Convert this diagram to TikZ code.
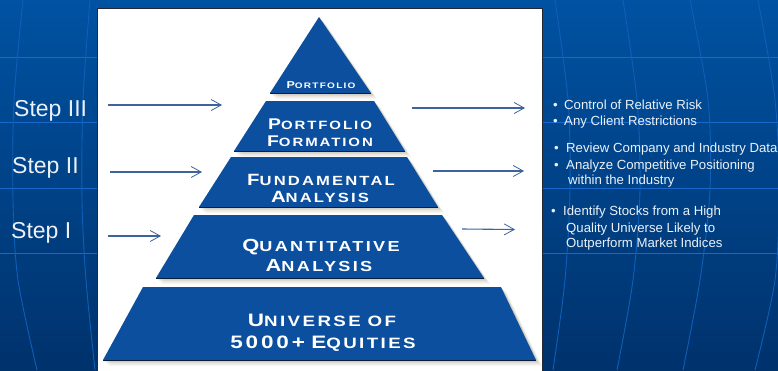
\documentclass[tikz,border=0pt]{standalone}
\usepackage{fontspec}
\setmainfont{Liberation Sans}
\newfontfamily\cop[FakeStretch=1.25,LetterSpace=16]{Liberation Sans}
\usetikzlibrary{arrows.meta}
\definecolor{bgtop}{RGB}{0,82,162}
\definecolor{bgbot}{RGB}{0,50,108}
\definecolor{gridc}{RGB}{25,105,205}
\definecolor{band}{RGB}{11,79,158}
\definecolor{bandedge}{RGB}{10,30,60}
\definecolor{shadowc}{RGB}{160,155,130}
\definecolor{arrowc}{RGB}{62,100,158}
\definecolor{txtc}{RGB}{236,241,248}
\definecolor{panelb}{RGB}{35,40,50}
\newcommand\pyr[4]{{\fontsize{#1pt}{#1pt}\selectfont #3}{\fontsize{#2pt}{#2pt}\selectfont #4}}
\begin{document}
\begin{tikzpicture}[x=1pt,y=-1pt,
  hline/.style={draw=gridc, line width=1pt},
  vline/.style={draw=gridc!55!bgtop, line width=0.9pt},
  ptext/.style={text=white, font=\cop\bfseries, inner sep=0pt, anchor=base},
  steplbl/.style={text=txtc, font=\fontsize{23}{23}\selectfont, inner sep=0pt, anchor=base west},
  bl/.style={text=txtc, font=\fontsize{13.2}{13.2}\selectfont, inner sep=0pt, anchor=base west},
  arr/.style={draw=arrowc, line width=1.1pt, -{Straight Barb[length=10pt,width=11pt,line width=0.8pt]}}
]
\useasboundingbox (0,0) rectangle (778,370);
% background
\fill[top color=bgtop, bottom color=bgbot] (0,0) rectangle (778,370);
\foreach \yy in {57,122,188,253} {\draw[hline] (0,\yy) -- (778,\yy);}
\draw[vline] plot[smooth] coordinates {(23,0) (14,100) (13,200) (18,280) (37,370)};
\draw[vline] plot[smooth] coordinates {(90,0) (83,100) (82,200) (86,280) (95,370)};
\draw[vline] plot[smooth] coordinates {(555,0) (568,100) (570,190) (565,280) (553,370)};
\draw[vline] plot[smooth] coordinates {(623,0) (637,100) (640,190) (633,280) (617,370)};
\draw[vline] plot[smooth] coordinates {(690,0) (708,100) (710,190) (700,280) (683,370)};
\draw[vline] plot[smooth] coordinates {(758,0) (775,100) (779,190) (775,280) (755,370)};
% panel
\fill[white] (97,8) rectangle (542,372);
\draw[panelb, line width=1pt] (97,372) -- (97,8) -- (542,8) -- (542,372);
% band corners
\coordinate (T1) at (319,17); \coordinate (T2) at (319,17);
\coordinate (T3) at (371,93); \coordinate (T4) at (270,93);
\coordinate (B1) at (266,101); \coordinate (B2) at (374,101);
\coordinate (B3) at (405,151); \coordinate (B4) at (234,151);
\coordinate (C1) at (231,157); \coordinate (C2) at (407,157);
\coordinate (C3) at (438,207); \coordinate (C4) at (199,207);
\coordinate (D1) at (194,215); \coordinate (D2) at (442,215);
\coordinate (D3) at (484,278); \coordinate (D4) at (156,278);
\coordinate (E1) at (143,287); \coordinate (E2) at (501,287);
\coordinate (E3) at (536,360); \coordinate (E4) at (103,360);
% shadows
\foreach \s/\o in {1.5/0.24, 3/0.20, 4.5/0.14, 6/0.08} {
  \foreach \n in {T,B,C,D,E} {
    \fill[shadowc, opacity=\o] ([shift={(\s,\s)}]\n1) -- ([shift={(\s,\s)}]\n2) -- ([shift={(\s,\s)}]\n3) -- ([shift={(\s,\s)}]\n4) -- cycle;
  }
}
% bands
\foreach \n in {T,B,C,D,E} {
  \fill[band] (\n1) -- (\n2) -- (\n3) -- (\n4) -- cycle;
  \draw[bandedge, line width=0.9pt] (\n4) -- (\n3);
}
% pyramid texts
\node[ptext] (p0) at (321,88) {\pyr{10}{8}{P}{ORTFOLIO}};
\node[ptext] (p1a) at (320,129) {\pyr{15.5}{12}{P}{ORTFOLIO}};
\node[ptext] (p1b) at (320,146) {\pyr{15.5}{12}{F}{ORMATION}};
\node[ptext] (p2a) at (321,185) {\pyr{16.3}{13.3}{F}{UNDAMENTAL}};
\node[ptext] (p2b) at (320,202) {\pyr{16.3}{13.3}{A}{NALYSIS}};
\node[ptext] (p3a) at (321,251.5) {\pyr{17.5}{14.5}{Q}{UANTITATIVE}};
\node[ptext] (p3b) at (319,271) {\pyr{17.5}{14.5}{A}{NALYSIS}};
\node[ptext] (p4a) at (322,326.7) {\pyr{18}{15}{U}{NIVERSE\hspace{0.45em}OF}};
\node[ptext] (p4b) at (323,348.7) {\pyr{18}{15}{5000+\hspace{0.35em}E}{QUITIES}};
% step labels
\node[steplbl] (s3) at (14,116.7) {Step III};
\node[steplbl] (s2) at (12,173) {Step II};
\node[steplbl] (s1) at (11,238) {Step I};
% arrows
\coordinate (l3s) at (108,105); \coordinate (l3e) at (222,105);
\coordinate (l2s) at (110,172); \coordinate (l2e) at (202,172);
\coordinate (l1s) at (108,236); \coordinate (l1e) at (161,236);
\coordinate (r3s) at (412,108); \coordinate (r3e) at (525,108);
\coordinate (r2s) at (433,171); \coordinate (r2e) at (524,171);
\coordinate (r1s) at (462,229); \coordinate (r1e) at (515,229.5);
\draw[arr] (l3s) -- (l3e);
\draw[arr] (l2s) -- (l2e);
\draw[arr] (l1s) -- (l1e);
\draw[arr] (r3s) -- (r3e);
\draw[arr] (r2s) -- (r2e);
\draw[arr] (r1s) -- (r1e);
% bullets
\node[bl] (d1) at (553,109.3) {•};
\node[bl] (t1) at (564,109.3) {Control of Relative Risk};
\node[bl] (d2) at (553,125.7) {•};
\node[bl] (t2) at (564,125.7) {Any Client Restrictions};
\node[bl] (d3) at (554,152.7) {•};
\node[bl] (t3) at (566,152.7) {Review Company and Industry Data};
\node[bl] (d4) at (554,169.3) {•};
\node[bl] (t4) at (566,169.3) {Analyze Competitive Positioning};
\node[bl] (t5) at (568,184.3) {within the Industry};
\node[bl] (d6) at (551,215.7) {•};
\node[bl] (t6) at (563,215.7) {Identify Stocks from a High};
\node[bl] (t7) at (566,232) {Quality Universe Likely to};
\node[bl] (t8) at (566,247.7) {Outperform Market Indices};
\end{tikzpicture}
\end{document}
